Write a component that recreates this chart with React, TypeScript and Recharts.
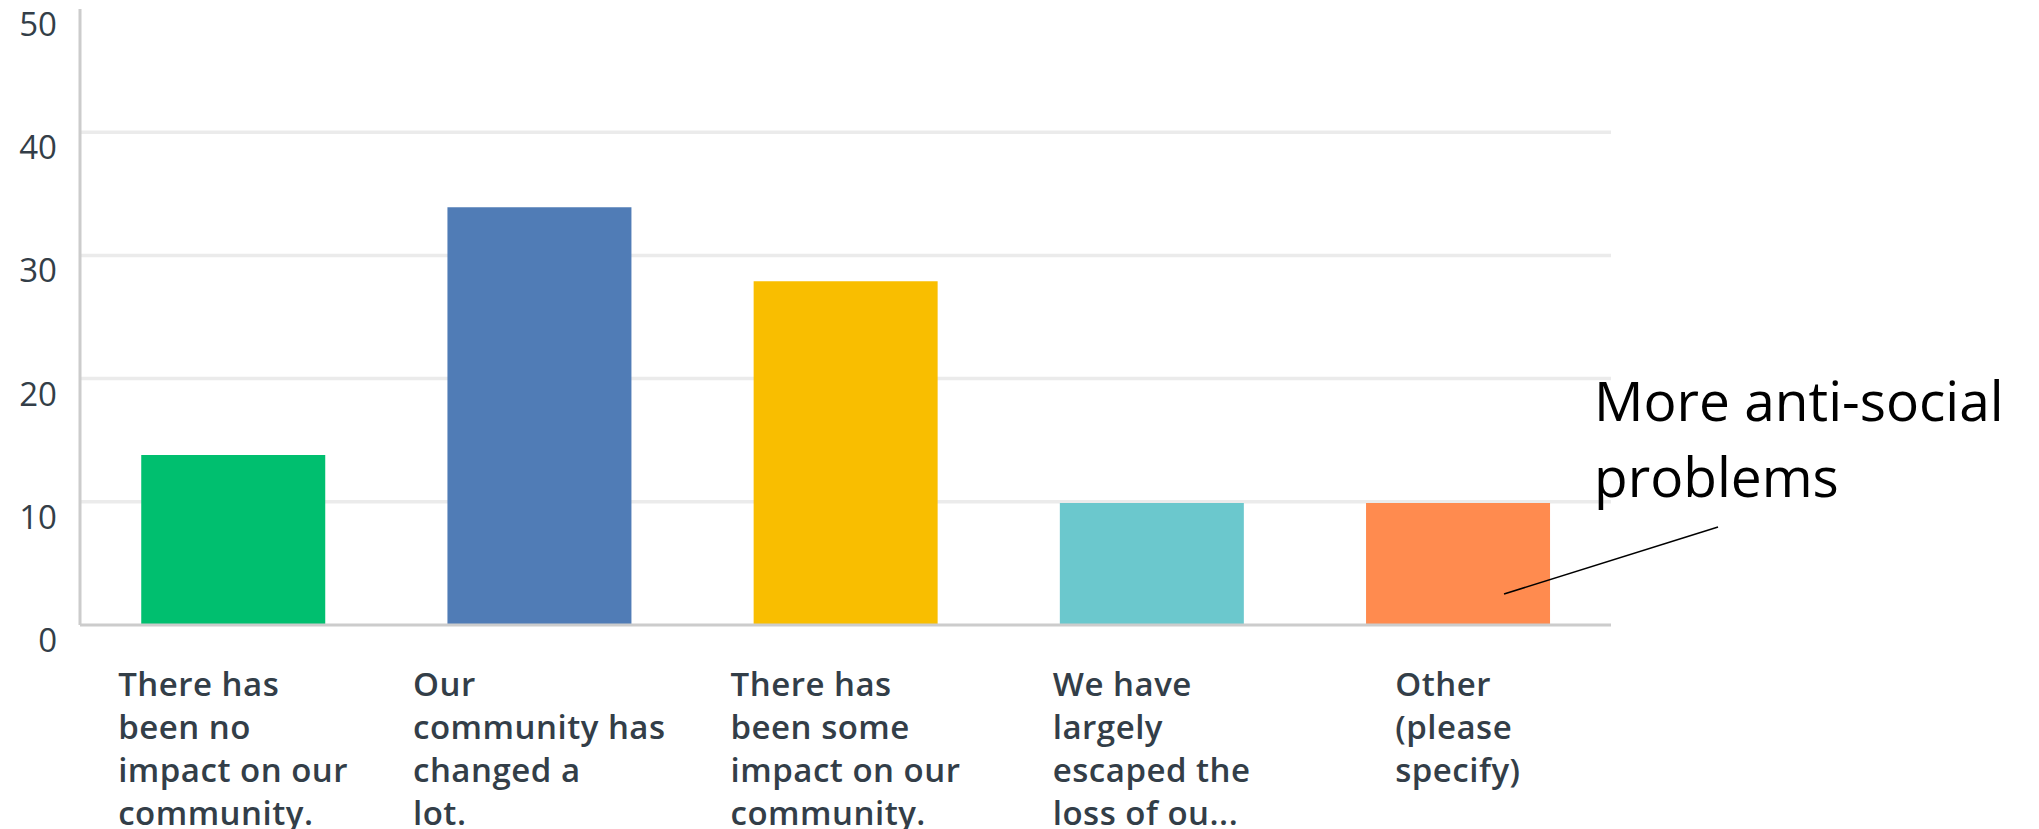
import { BarChart, Bar, XAxis, YAxis, CartesianGrid, Cell, LabelList } from "recharts";

const categories = [
  "There has\nbeen no\nimpact on our\ncommunity.",
  "Our\ncommunity has\nchanged a\nlot.",
  "There has\nbeen some\nimpact on our\ncommunity.",
  "We have\nlargely\nescaped the\nloss of ou...",
  "Other\n(please\nspecify)",
];
const responses = [13.8, 33.9, 27.9, 9.9, 9.9];
const yTicks = [0, 10, 20, 30, 40, 50];
const gridValues = [10, 20, 30, 40];
const annotationLines = ["More anti-social", "problems"];

const COLORS = ["#00BF6F", "#507CB6", "#F9BE00", "#6BC8CD", "#FF8B4F"];
const TEXT = "#333E48";

const data = categories.map((name, i) => ({ name, value: responses[i] }));

const YTick = (props: any) => {
  const { x, y, payload } = props;
  return (
    <text x={x - 23} y={y + 27} textAnchor="end" fill={TEXT} fontSize={33} fontFamily="Open Sans">
      {payload.value}
    </text>
  );
};

const XTick = (props: any) => {
  const { x, y, payload } = props;
  const lines = String(payload.value).split("\n");
  return (
    <foreignObject x={x - 153} y={y + 37} width={306} height={180} style={{ overflow: "visible" }}>
      <div style={{ display: "flex", justifyContent: "center" }}>
        <div
          style={{
            textAlign: "left",
            fontFamily: "Open Sans",
            fontWeight: 600,
            fontSize: 33,
            lineHeight: "43px",
            letterSpacing: 0.5,
            color: TEXT,
            whiteSpace: "nowrap",
          }}
        >
          {lines.map((l, i) => (
            <div key={i}>{l}</div>
          ))}
        </div>
      </div>
    </foreignObject>
  );
};

// callout pointing into the "Other" bar
const Callout = (props: any) => {
  const { x, y, width, index } = props;
  if (index !== categories.length - 1) return null;
  const right = x + width;
  return (
    <g>
      <line x1={x + width * 0.75} y1={y + 91} x2={right + 168} y2={y + 24} stroke="#000" strokeWidth={1.5} />
      {annotationLines.map((t, i) => (
        <text key={i} x={right + 44} y={y - 82 + i * 76} fill="#000" fontSize={55} fontFamily="Open Sans">
          {t}
        </text>
      ))}
    </g>
  );
};

export default function App() {
  return (
    <div style={{ position: "absolute", left: 0, top: 0, width: 2039, height: 829, overflow: "hidden", background: "#fff" }}>
      <BarChart
        width={2039}
        height={829}
        data={data}
        margin={{ top: 9, right: 428, bottom: 0, left: 0 }}
        barCategoryGap="20%"
      >
        <CartesianGrid vertical={false} horizontalValues={gridValues} stroke="#EBEBEB" strokeWidth={3.5} />
        <XAxis
          dataKey="name"
          height={204}
          interval={0}
          tickLine={false}
          tickSize={0}
          tickMargin={0}
          axisLine={{ stroke: "#CCCCCC", strokeWidth: 3 }}
          tick={<XTick />}
        />
        <YAxis
          width={80}
          domain={[0, 50]}
          ticks={yTicks}
          tickLine={false}
          tickSize={0}
          tickMargin={0}
          axisLine={{ stroke: "#CCCCCC", strokeWidth: 3 }}
          tick={<YTick />}
        />
        <Bar dataKey="value" isAnimationActive={false}>
          {data.map((_, i) => (
            <Cell key={`cell-${i}`} fill={COLORS[i % COLORS.length]} />
          ))}
          <LabelList dataKey="value" content={<Callout />} />
        </Bar>
      </BarChart>
    </div>
  );
}
